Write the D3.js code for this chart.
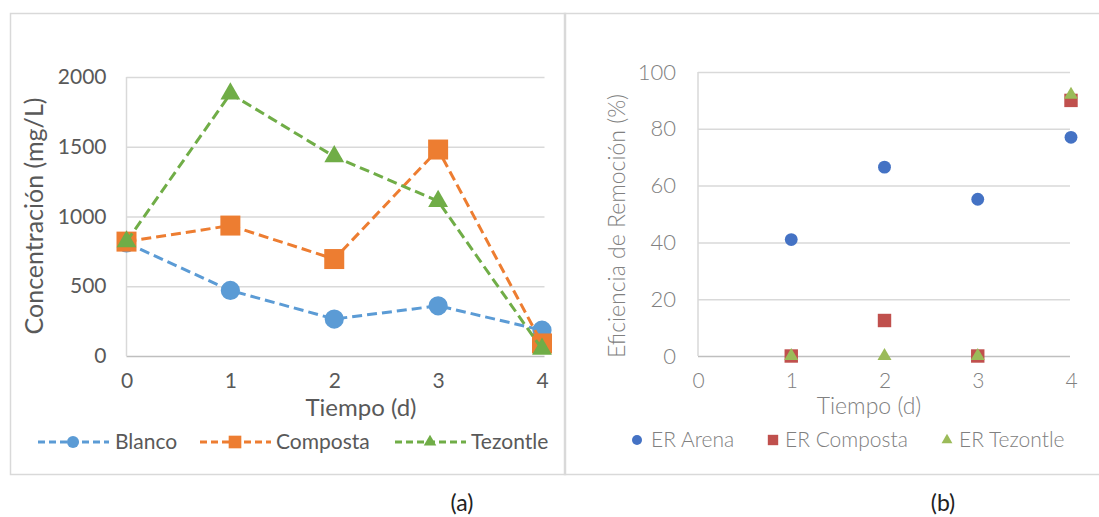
<!DOCTYPE html>
<html>
<head>
<meta charset="utf-8">
<script src="https://cdn.jsdelivr.net/npm/d3@7"></script>
<style>
  body { margin: 0; background: #fff; }
  text { font-family: Lato, "Open Sans", sans-serif; }
</style>
</head>
<body>
<div id="chart"></div>
<script>
// panel (a): concentration over time
const days = [0, 1, 2, 3, 4];
const blanco = [810, 470, 265, 360, 185];
const composta = [820, 935, 695, 1480, 90];
const tezontle = [820, 1880, 1430, 1110, 50];
const concTicks = [0, 500, 1000, 1500, 2000];

// panel (b): removal efficiency
const erDays = [1, 2, 3, 4];
const erArena = [41, 66.5, 55.2, 77];
const erComposta = [0, 12.5, 0, 90];
const erTezontle = [0, 0, 0, 92];
const effTicks = [0, 20, 40, 60, 80, 100];

const w = 1099;
const h = 517;

const svg = d3
  .select("#chart")
  .append("svg")
  .attr("width", w)
  .attr("height", h);

svg.append("rect").attr("width", w).attr("height", h).attr("fill", "#fff");

// panel frames
svg.append("rect")
  .attr("x", 10.5).attr("y", 13.5).attr("width", 555).attr("height", 461)
  .attr("fill", "none").attr("stroke", "#d9d9d9").attr("stroke-width", 1.5);
svg.append("rect")
  .attr("x", 564.5).attr("y", 13.5).attr("width", 540).attr("height", 461)
  .attr("fill", "none").attr("stroke", "#d9d9d9").attr("stroke-width", 1.5);

// ---------- panel (a) ----------
let xA = d3.scaleLinear().domain([0, 4]).range([126.5, 542]);
let yA = d3.scaleLinear().domain([0, 2000]).range([356, 77]);

let gA = svg.append("g");

gA.append("g")
  .attr("transform", "translate(126.5,0)")
  .call(d3.axisLeft(yA).tickValues(concTicks).tickSize(-418).tickPadding(20).tickFormat(d3.format("d")))
  .call(function (g) {
    g.select(".domain").remove();
    g.selectAll(".tick line").attr("stroke", function (d) {
      return d === 0 ? "#bfbfbf" : "#d9d9d9";
    }).attr("stroke-width", 1.5);
    g.selectAll(".tick text")
      .attr("fill", "#595959")
      .attr("font-size", 21);
  });

gA.append("line")
  .attr("x1", 126.5).attr("x2", 126.5).attr("y1", yA(2000)).attr("y2", yA(0))
  .attr("stroke", "#d9d9d9").attr("stroke-width", 1.5);

gA.append("g")
  .attr("transform", "translate(0,356)")
  .call(d3.axisBottom(xA).tickValues(days).tickSize(0).tickPadding(17).tickFormat(d3.format("d")))
  .call(function (g) {
    g.select(".domain").remove();
    g.selectAll(".tick text").attr("fill", "#595959").attr("font-size", 21);
  });

gA.append("text")
  .attr("x", 361).attr("y", 416)
  .attr("text-anchor", "middle")
  .attr("fill", "#595959").attr("font-size", 24)
  .text("Tiempo (d)");

gA.append("text")
  .attr("transform", "translate(43,216) rotate(-90)")
  .attr("text-anchor", "middle")
  .attr("fill", "#595959").attr("font-size", 25)
  .text("Concentración (mg/L)");

const seriesA = [
  { name: "Blanco", values: blanco, color: "#5b9bd5", shape: d3.symbolCircle, size: 290 },
  { name: "Composta", values: composta, color: "#ed7d31", shape: d3.symbolSquare, size: 400 },
  { name: "Tezontle", values: tezontle, color: "#70ad47", shape: d3.symbolTriangle, size: 170 }
];

let line = d3.line()
  .x(function (d, i) { return xA(days[i]); })
  .y(function (d) { return yA(d); });

seriesA.forEach(function (s) {
  gA.append("path")
    .attr("d", line(s.values))
    .attr("fill", "none")
    .attr("stroke", s.color)
    .attr("stroke-width", 3)
    .attr("stroke-dasharray", "10,5");
  gA.selectAll(null)
    .data(s.values)
    .enter()
    .append("path")
    .attr("transform", function (d, i) {
      return `translate(${xA(days[i])},${yA(d)})`;
    })
    .attr("d", d3.symbol(s.shape, s.size))
    .attr("fill", s.color);
});

// legend (a)
const legA = [38, 200, 395];
const legTextA = [115, 276, 471];
seriesA.forEach(function (s, i) {
  let g = gA.append("g");
  g.append("line")
    .attr("x1", legA[i]).attr("x2", legA[i] + 71).attr("y1", 442).attr("y2", 442)
    .attr("stroke", s.color).attr("stroke-width", 3).attr("stroke-dasharray", "7,4");
  g.append("path")
    .attr("transform", `translate(${legA[i] + 35},442)`)
    .attr("d", d3.symbol(s.shape, s.size * 0.4))
    .attr("fill", s.color);
  g.append("text")
    .attr("x", legTextA[i]).attr("y", 449)
    .attr("fill", "#595959").attr("font-size", 21)
    .text(s.name);
});

// ---------- panel (b) ----------
let xB = d3.scaleLinear().domain([0, 4]).range([698, 1071]);
let yB = d3.scaleLinear().domain([0, 100]).range([356, 72]);

let gB = svg.append("g");

gB.append("g")
  .attr("transform", "translate(698,0)")
  .call(d3.axisLeft(yB).tickValues(effTicks).tickSize(-372).tickPadding(22))
  .call(function (g) {
    g.select(".domain").remove();
    g.selectAll(".tick line").attr("stroke", function (d) {
      return d === 0 ? "#bfbfbf" : "#d9d9d9";
    }).attr("stroke-width", 1.5);
    g.selectAll(".tick text")
      .attr("fill", "#808080")
      .attr("font-weight", 300)
      .attr("font-size", 22);
  });

gB.append("line")
  .attr("x1", 698).attr("x2", 698).attr("y1", yB(100)).attr("y2", yB(0))
  .attr("stroke", "#d9d9d9").attr("stroke-width", 1.5);

gB.append("g")
  .attr("transform", "translate(0,356)")
  .call(d3.axisBottom(xB).tickValues(days).tickSize(0).tickPadding(17).tickFormat(d3.format("d")))
  .call(function (g) {
    g.select(".domain").remove();
    g.selectAll(".tick text").attr("fill", "#808080").attr("font-weight", 300).attr("font-size", 21);
  });

gB.append("text")
  .attr("x", 869).attr("y", 414)
  .attr("text-anchor", "middle")
  .attr("fill", "#808080").attr("font-weight", 300).attr("font-size", 23)
  .text("Tiempo (d)");

gB.append("text")
  .attr("transform", "translate(625,226) rotate(-90)")
  .attr("text-anchor", "middle")
  .attr("fill", "#808080").attr("font-weight", 300).attr("font-size", 23)
  .text("Eficiencia de Remoción (%)");

const seriesB = [
  { name: "ER Arena", values: erArena, color: "#4472c4", shape: d3.symbolCircle, size: 130 },
  { name: "ER Composta", values: erComposta, color: "#c0504d", shape: d3.symbolSquare, size: 180 },
  { name: "ER Tezontle", values: erTezontle, color: "#9bbb59", shape: d3.symbolTriangle, size: 85 }
];

seriesB.forEach(function (s) {
  gB.selectAll(null)
    .data(s.values)
    .enter()
    .append("path")
    .attr("transform", function (d, i) {
      return `translate(${xB(erDays[i])},${yB(d)})`;
    })
    .attr("d", d3.symbol(s.shape, s.size))
    .attr("fill", s.color);
});

// legend (b)
const legB = [637, 773, 947];
const legTextB = [651, 785, 959];
seriesB.forEach(function (s, i) {
  gB.append("path")
    .attr("transform", `translate(${legB[i]},440)`)
    .attr("d", d3.symbol(s.shape, s.size * 0.6))
    .attr("fill", s.color);
  gB.append("text")
    .attr("x", legTextB[i]).attr("y", 447)
    .attr("fill", "#808080").attr("font-weight", 300).attr("font-size", 21)
    .text(s.name);
});

// captions
svg.append("text")
  .attr("x", 462).attr("y", 511)
  .attr("text-anchor", "middle")
  .attr("fill", "#222").attr("font-size", 23)
  .text("(a)");
svg.append("text")
  .attr("x", 943).attr("y", 511)
  .attr("text-anchor", "middle")
  .attr("fill", "#222").attr("font-size", 23)
  .text("(b)");
</script>
</body>
</html>
